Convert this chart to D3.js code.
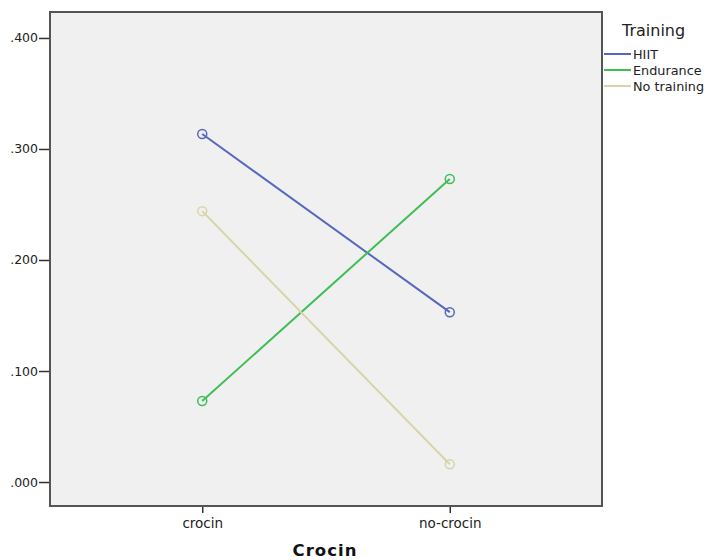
<!DOCTYPE html>
<html><head><meta charset="utf-8">
<script src="https://cdn.jsdelivr.net/npm/d3@7"></script>
<style>body{margin:0;background:#fff;} svg{display:block;}</style>
</head><body>
<svg id="c" width="707" height="560"></svg>
<script>
const categories = ["crocin", "no-crocin"];
const seriesNames = ["HIIT", "Endurance", "No training"];
const hiit = [0.3135, 0.153];
const endurance = [0.073, 0.273];
const noTraining = [0.244, 0.016];
const yTicks = [0, 0.1, 0.2, 0.3, 0.4];
const colors = ["#5468C0", "#3FBE55", "#D8D4A8"];
const seriesValues = [hiit, endurance, noTraining];

const svg = d3.select("#c");
const L = 50, T = 12, R = 602, B = 506;
const x = d3.scalePoint().domain(categories).range([L, R]).padding(0.615);
const y = d3.scaleLinear().domain([-0.0216, 0.4234]).range([B, T]);

svg.append("rect").attr("x", L).attr("y", T).attr("width", R - L).attr("height", B - T)
  .attr("fill", "#f0f0f0").attr("stroke", "#555").attr("stroke-width", 2);

const font = "DejaVu Sans, sans-serif";
const yAxis = d3.axisLeft(y).tickValues(yTicks).tickSize(10).tickPadding(1)
  .tickFormat(d => d3.format(".3f")(d).replace(/^0/, ""));
const gy = svg.append("g").attr("transform", `translate(${L - 1},0)`).call(yAxis);
gy.select(".domain").remove();
gy.selectAll("line").attr("stroke", "#333").attr("stroke-width", 1.5);
gy.selectAll("text").attr("font-family", font).attr("font-size", 12.5).attr("fill", "#222");

const xAxis = d3.axisBottom(x).tickSize(6).tickPadding(5);
const gx = svg.append("g").attr("transform", `translate(0,${B + 1})`).call(xAxis);
gx.select(".domain").remove();
gx.selectAll("line").attr("stroke", "#333").attr("stroke-width", 1.5);
gx.selectAll("text").attr("font-family", font).attr("font-size", 13.5).attr("fill", "#222");

svg.append("text").attr("x", 325).attr("y", 556).attr("text-anchor", "middle")
  .attr("font-family", font).attr("font-size", 16.5).attr("font-weight", "bold")
  .attr("letter-spacing", 1).attr("fill", "#111").text("Crocin");

const line = d3.line().x((d, i) => x(categories[i])).y(d => y(d));
seriesValues.forEach((vals, s) => {
  svg.append("path").datum(vals).attr("d", line).attr("fill", "none")
    .attr("stroke", colors[s]).attr("stroke-width", 2);
  svg.selectAll(null).data(vals).enter().append("circle")
    .attr("cx", (d, i) => x(categories[i])).attr("cy", d => y(d)).attr("r", 4.5)
    .attr("fill", "none").attr("stroke", colors[s]).attr("stroke-width", 1.5);
});

const lg = svg.append("g");
lg.append("text").attr("x", 622).attr("y", 36).attr("font-family", font).attr("font-size", 16)
  .attr("fill", "#222").text("Training");
seriesNames.forEach((n, i) => {
  const yy = 54 + i * 16;
  lg.append("line").attr("x1", 604).attr("x2", 631).attr("y1", yy).attr("y2", yy)
    .attr("stroke", colors[i]).attr("stroke-width", 2);
  lg.append("text").attr("x", 633).attr("y", yy + 4.5).attr("font-family", font).attr("font-size", 12.8)
    .attr("fill", "#222").text(n);
});
</script>
</body></html>
